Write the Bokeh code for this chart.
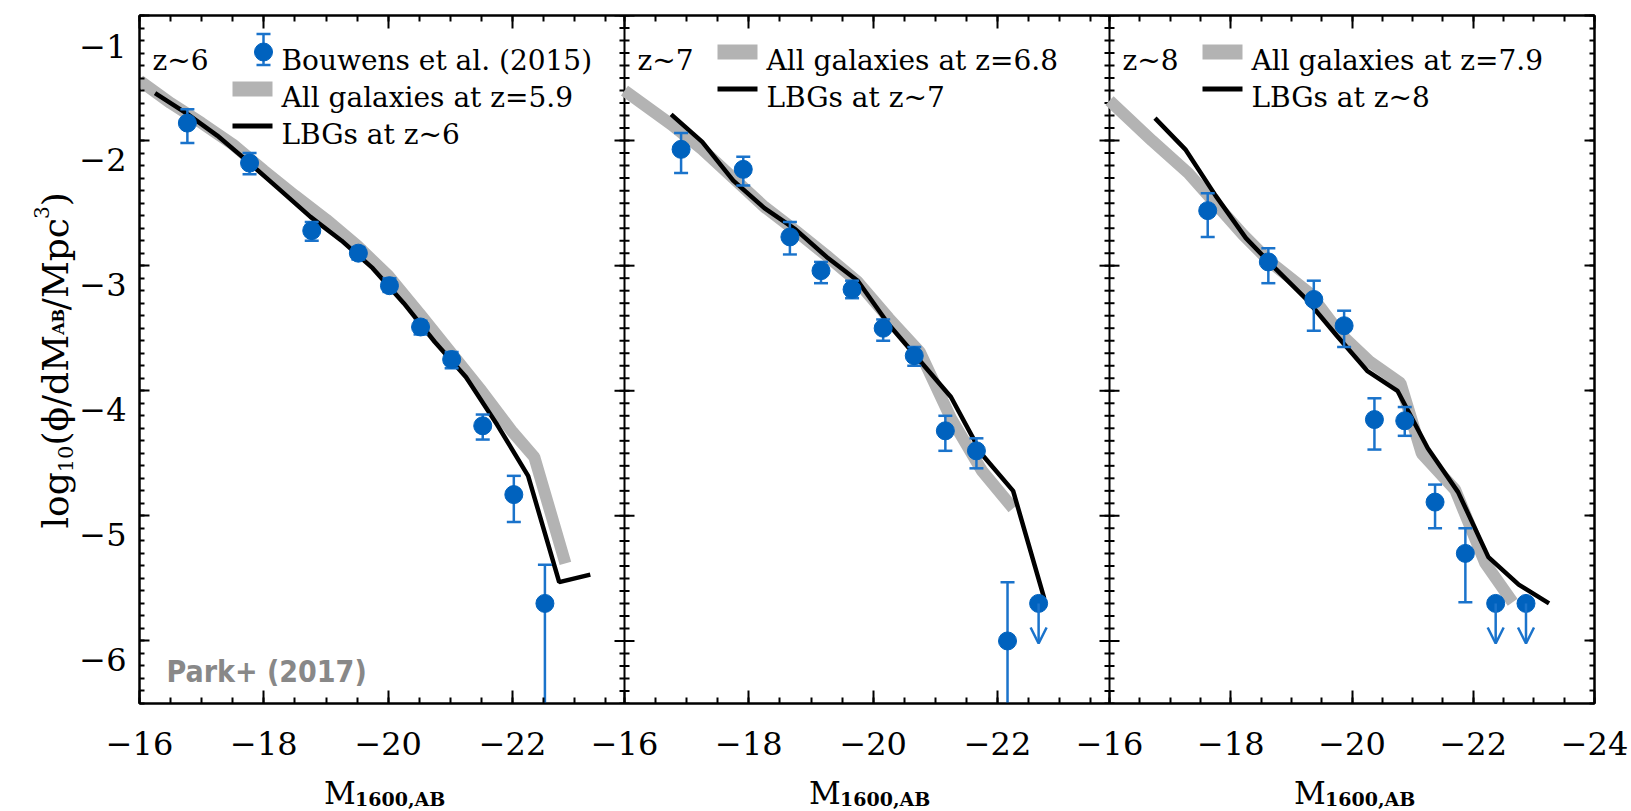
import numpy as np
from bokeh.plotting import figure
from bokeh.layouts import row, column
from bokeh.models import (Range1d, LinearAxis, FixedTicker, Label, ColumnDataSource,
                          Arrow, OpenHead)
from bokeh.embed import file_html
from bokeh.resources import INLINE

# ---------------- data ----------------
# Bouwens et al. (2015) stepwise UV luminosity functions (log10 phi)
b6_M   = [-22.52, -22.02, -21.52, -21.02, -20.52, -20.02, -19.52, -18.77, -17.77, -16.77]
b6_phi = [-5.70, -4.83, -4.28, -3.75, -3.49, -3.16, -2.90, -2.72, -2.18, -1.86]
b6_hi  = [-5.39, -4.68, -4.19, -3.69, -3.44, -3.10, -2.85, -2.65, -2.10, -1.75]
b6_lo  = [None, -5.05, -4.39, -3.82, -3.55, -3.21, -2.95, -2.80, -2.27, -2.02]
b6_lim = [False, False, False, False, False, False, False, False, False, False]

b7_M   = [-22.66, -22.16, -21.66, -21.16, -20.66, -20.16, -19.66, -19.16, -18.66, -17.91, -16.91]
b7_phi = [-5.70, -6.00, -4.48, -4.32, -3.72, -3.50, -3.19, -3.04, -2.77, -2.23, -2.07]
b7_hi  = [None, -5.53, -4.38, -4.20, -3.65, -3.43, -3.12, -2.97, -2.65, -2.13, -1.94]
b7_lo  = [None, None, -4.62, -4.48, -3.80, -3.60, -3.26, -3.14, -2.91, -2.36, -2.26]
b7_lim = [True, False, False, False, False, False, False, False, False, False, False]

b8_M   = [-22.87, -22.37, -21.87, -21.37, -20.87, -20.37, -19.87, -19.37, -18.62, -17.62]
b8_phi = [-5.70, -5.70, -5.30, -4.89, -4.24, -4.23, -3.48, -3.27, -2.97, -2.56]
b8_hi  = [None, None, -5.10, -4.75, -4.13, -4.06, -3.36, -3.12, -2.86, -2.42]
b8_lo  = [None, None, -5.69, -5.10, -4.36, -4.47, -3.65, -3.52, -3.14, -2.77]
b8_lim = [True, True, False, False, False, False, False, False, False, False]

# Model: all galaxies (grey band)
all6_M = [-16.0, -16.5, -17.0, -17.5, -18.0, -18.5, -19.0, -19.5, -20.0, -20.5, -21.0, -21.5, -22.0, -22.35, -22.85]
all6   = [-1.52, -1.70, -1.86, -2.03, -2.24, -2.44, -2.63, -2.84, -3.08, -3.38, -3.69, -4.00, -4.33, -4.53, -5.38]
all7_M = [-16.0, -16.75, -17.25, -17.75, -18.25, -18.75, -19.25, -19.75, -20.25, -20.75, -21.25, -21.75, -22.25]
all7   = [-1.60, -1.87, -2.07, -2.30, -2.53, -2.72, -2.92, -3.13, -3.42, -3.69, -4.22, -4.64, -4.94]
all8_M = [-16.0, -16.7, -17.3, -18.2, -18.65, -19.3, -19.8, -20.3, -20.8, -21.15, -21.7, -22.2, -22.65]
all8   = [-1.68, -2.00, -2.26, -2.75, -2.97, -3.22, -3.54, -3.77, -3.94, -4.50, -4.79, -5.38, -5.69]

# Model: LBGs (black line)
lbg6_M = [-16.25, -16.75, -17.25, -17.75, -18.25, -18.75, -19.25, -19.75, -20.25, -20.75, -21.25, -21.75, -22.25, -22.75, -23.25]
lbg6   = [-1.62, -1.78, -1.96, -2.17, -2.39, -2.61, -2.80, -3.02, -3.30, -3.61, -3.89, -4.27, -4.68, -5.53, -5.47]
lbg7_M = [-16.75, -17.25, -17.75, -18.25, -18.75, -19.25, -19.75, -20.25, -20.75, -21.25, -21.75, -22.25, -22.75]
lbg7   = [-1.79, -2.01, -2.32, -2.54, -2.71, -2.93, -3.12, -3.47, -3.76, -4.05, -4.51, -4.80, -5.66]
lbg8_M = [-16.75, -17.25, -17.75, -18.25, -18.75, -19.25, -19.75, -20.25, -20.75, -21.25, -21.75, -22.25, -22.75, -23.25]
lbg8   = [-1.82, -2.07, -2.44, -2.78, -3.03, -3.27, -3.56, -3.84, -4.00, -4.46, -4.81, -5.33, -5.55, -5.70]

# texts
panel_tags = ["z~6", "z~7", "z~8"]
obs_label  = "Bouwens et al. (2015)"
all_labels = ["All galaxies at z=5.9", "All galaxies at z=6.8", "All galaxies at z=7.9"]
lbg_labels = ["LBGs at z~6", "LBGs at z~7", "LBGs at z~8"]
credit     = "Park+ (2017)"

# axes
panel_xlim = [(-16.0, -23.8), (-16.0, -23.8), (-16.0, -24.0)]
x_major = [-16, -18, -20, -22, -24]
x_minor_step = 0.5
y_lim = (-6.5, -1.0)
y_major = [-1, -2, -3, -4, -5, -6]
y_labels = ["\u22121", "\u22122", "\u22123", "\u22124", "\u22125", "\u22126"]
y_minor_step = 0.1

# ---------------- layout / style constants (page pixels) ----------------
PAGE_W, PAGE_H = 1631, 811
LEFT_W = 136                      # strip holding the y tick labels and y title
FRAME_L, FRAME_R, FRAME_T, FRAME_B = 139, 1594, 15, 703
MAIN_H = FRAME_B + 3              # main plot; full-width strip with x labels below it
NP = 3
PW = (FRAME_R - FRAME_L) / NP
BLUE = "#0062BE"
ERR = "#1A73CB"
GRAY = "#B3B3B3"
SERIF = "DejaVu Serif"
LIMIT_LEN = 0.32
COMMON = dict(tools="", toolbar_location=None, output_backend="svg", title=None)

# ---------------- main plot ----------------
p = figure(width=PAGE_W - LEFT_W, height=MAIN_H,
           x_range=Range1d(0, NP), y_range=Range1d(*y_lim),
           x_axis_type=None, y_axis_type=None,
           min_border_left=FRAME_L - LEFT_W, min_border_right=PAGE_W - FRAME_R,
           min_border_top=FRAME_T, min_border_bottom=MAIN_H - FRAME_B, **COMMON)
p.outline_line_color = "black"
p.outline_line_width = 2
p.background_fill_color = "white"
p.border_fill_color = "white"

for k, (a, b) in enumerate(panel_xlim):
    span = b - a
    p.extra_x_ranges["m%d" % k] = Range1d(a - k * span, a + (NP - k) * span)
p.extra_x_ranges["px"] = Range1d(FRAME_L, FRAME_R)
p.extra_y_ranges["py"] = Range1d(FRAME_B, FRAME_T)


def u_of(k, M):
    a, b = panel_xlim[k]
    return float(k + (M - a) / (b - a))


xt_major, xt_minor, xt_text = [], [], []
for k, (a, b) in enumerate(panel_xlim):
    for M in x_major:
        if b <= M <= a:
            xt_major.append(u_of(k, M))
            xt_text.append("\u2212%d" % abs(M))
    for M in np.arange(a, b - 1e-9, -x_minor_step):
        xt_minor.append(u_of(k, float(M)))

y_minor = [float(v) for v in np.round(np.arange(y_major[0], y_lim[0] - 1e-9, -y_minor_step), 3)]


def style_axis(ax, tin, tmin):
    ax.axis_line_width = 2
    ax.axis_line_color = "black"
    ax.major_tick_line_width = 2
    ax.minor_tick_line_width = 2
    ax.major_tick_line_color = "black"
    ax.minor_tick_line_color = "black"
    ax.major_tick_in = tin
    ax.major_tick_out = 0
    ax.minor_tick_in = tmin
    ax.minor_tick_out = 0
    ax.major_label_text_color = None
    ax.major_label_text_font_size = "1px"
    ax.major_label_standoff = 0


for side in ("below", "above"):
    ax = LinearAxis(ticker=FixedTicker(ticks=xt_major, minor_ticks=xt_minor))
    style_axis(ax, 13, 6)
    p.add_layout(ax, side)
for side in ("left", "right"):
    ax = LinearAxis(ticker=FixedTicker(ticks=[float(v) for v in y_major], minor_ticks=y_minor))
    style_axis(ax, 10, 5)
    p.add_layout(ax, side)

# internal panel boundaries with two-sided ticks
bxs = [FRAME_L + PW * k for k in range(1, NP)]
p.segment(x0=bxs, y0=[y_lim[0]] * len(bxs), x1=bxs, y1=[y_lim[1]] * len(bxs),
          x_range_name="px", line_width=2, line_color="black")
tx0, tx1, ty = [], [], []
for bx in bxs:
    for v in y_major:
        tx0.append(bx - 10); tx1.append(bx + 10); ty.append(v)
    for v in y_minor:
        tx0.append(bx - 5); tx1.append(bx + 5); ty.append(v)
p.segment(x0=tx0, y0=ty, x1=tx1, y1=ty, x_range_name="px", line_width=2, line_color="black")

# ---------------- data glyphs ----------------
panels = [
    (b6_M, b6_phi, b6_hi, b6_lo, b6_lim, all6_M, all6, lbg6_M, lbg6),
    (b7_M, b7_phi, b7_hi, b7_lo, b7_lim, all7_M, all7, lbg7_M, lbg7),
    (b8_M, b8_phi, b8_hi, b8_lo, b8_lim, all8_M, all8, lbg8_M, lbg8),
]
for k, (M, phi, hi, lo, lim, gM, g, lM, l) in enumerate(panels):
    rng = "m%d" % k
    p.line(gM, g, x_range_name=rng, line_width=12, line_color=GRAY)
    p.line(lM, l, x_range_name=rng, line_width=4.5, line_color="black")
    ex, ey0, ey1, cx, cy = [], [], [], [], []
    for m, v, h, lw, isl in zip(M, phi, hi, lo, lim):
        if isl:
            continue
        bot = lw if lw is not None else y_lim[0] - 1.0
        ex.append(m); ey0.append(bot); ey1.append(h)
        cx.append(m); cy.append(h)
        if lw is not None:
            cx.append(m); cy.append(lw)
    p.segment(x0=ex, y0=ey0, x1=ex, y1=ey1, x_range_name=rng, line_width=2.5, line_color=ERR)
    p.scatter(cx, cy, marker="dash", size=14, line_width=2.5, line_color=ERR, x_range_name=rng)
    p.scatter(M, phi, size=18, fill_color=BLUE, line_color=BLUE, x_range_name=rng)
    lx = [m for m, isl in zip(M, lim) if isl]
    ly = [v for v, isl in zip(phi, lim) if isl]
    if lx:
        src = ColumnDataSource(dict(x=lx, y0=ly, y1=[v - LIMIT_LEN for v in ly]))
        p.add_layout(Arrow(end=OpenHead(size=16, line_color=ERR, line_width=2.5),
                           x_start="x", y_start="y0", x_end="x", y_end="y1", source=src,
                           line_color=ERR, line_width=2.5, x_range_name=rng))

# ---------------- legends ----------------
LEG_BASE0, LEG_PITCH = 60, 37
LEG_FONT = "28px"
gx0, gx1, gy, kx0, kx1, ky = [], [], [], [], [], []
for k in range(NP):
    left = FRAME_L + PW * k
    p.add_layout(Label(x=left + 13, y=LEG_BASE0, text=panel_tags[k], x_range_name="px",
                       y_range_name="py", text_font=SERIF, text_font_size=LEG_FONT,
                       text_baseline="alphabetic", text_color="black"))
    rows = []
    if k == 0:
        rows.append(("obs", obs_label))
    rows.append(("all", all_labels[k]))
    rows.append(("lbg", lbg_labels[k]))
    for r, (kind, txt) in enumerate(rows):
        base = LEG_BASE0 + r * LEG_PITCH
        yc = base - 8.5
        if kind == "obs":
            mx = left + 124
            p.segment(x0=[mx], y0=[yc - 18], x1=[mx], y1=[yc + 13], x_range_name="px",
                      y_range_name="py", line_width=2.5, line_color=ERR)
            p.scatter([mx, mx], [yc - 18, yc + 13], marker="dash", size=14, line_width=2.5,
                      line_color=ERR, x_range_name="px", y_range_name="py")
            p.scatter([mx], [yc], size=18, fill_color=BLUE, line_color=BLUE,
                      x_range_name="px", y_range_name="py")
        elif kind == "all":
            gx0.append(left + 93); gx1.append(left + 133); gy.append(yc)
        else:
            kx0.append(left + 93); kx1.append(left + 133); ky.append(yc)
        p.add_layout(Label(x=left + 142, y=base, text=txt, x_range_name="px", y_range_name="py",
                           text_font=SERIF, text_font_size=LEG_FONT, text_baseline="alphabetic",
                           text_color="black"))
p.segment(x0=gx0, y0=gy, x1=gx1, y1=gy, x_range_name="px", y_range_name="py",
          line_width=15, line_color=GRAY)
p.segment(x0=kx0, y0=ky, x1=kx1, y1=ky, x_range_name="px", y_range_name="py",
          line_width=5, line_color="black")

# credit
p.add_layout(Label(x=166, y=671, text=credit, x_range_name="px", y_range_name="py",
                   text_font="DejaVu Sans Condensed", text_font_style="bold",
                   text_font_size="30px", text_color="#888888", text_baseline="alphabetic"))

# ---------------- left strip: y tick labels and y title ----------------
# Same top/bottom borders as the main plot, so that the row alignment keeps its
# frame exactly level with the main frame; its ranges are page pixels.
pl = figure(width=LEFT_W, height=MAIN_H, x_range=Range1d(0, LEFT_W),
            y_range=Range1d(FRAME_B, FRAME_T), x_axis_type=None, y_axis_type=None,
            min_border_left=0, min_border_right=0, min_border_top=FRAME_T,
            min_border_bottom=MAIN_H - FRAME_B, **COMMON)
pl.outline_line_color = None
pl.background_fill_color = "white"
pl.border_fill_color = "white"
for v, txt in zip(y_major, y_labels):
    ycen = FRAME_T + (y_lim[1] - v) / (y_lim[1] - y_lim[0]) * (FRAME_B - FRAME_T) + 7
    base = max(ycen + 11.5, FRAME_T + 31)
    pl.add_layout(Label(x=FRAME_L - 13, y=base, text=txt, text_font=SERIF,
                        text_font_size="32px", text_align="right", text_baseline="alphabetic",
                        text_color="black"))

yt_pieces = [("log", 36, "normal", 55, 56.2), ("10", 21, "normal", 65, 26.7),
             ("(\u03d5/dM", 36, "normal", 55, 110.8), ("AB", 16, "bold", 58, 24.6),
             ("/Mpc", 36, "normal", 55, 91.2), ("3", 20, "normal", 41, 12.7),
             (")", 36, "normal", 55, 14.0)]
ycur = 528
for txt, fs, sty, bx, w in yt_pieces:
    pl.add_layout(Label(x=bx, y=ycur, text=txt, angle=np.pi / 2, text_font=SERIF,
                        text_font_size="%dpx" % fs, text_font_style=sty,
                        text_baseline="alphabetic", text_align="left", text_color="black"))
    ycur -= w

# ---------------- bottom strip (full width): x tick labels and x titles ----------------
pb = figure(width=PAGE_W, height=PAGE_H - MAIN_H,
            x_range=Range1d(0, PAGE_W), y_range=Range1d(PAGE_H, MAIN_H),
            x_axis_type=None, y_axis_type=None, min_border=0, **COMMON)
pb.outline_line_color = None
pb.background_fill_color = "white"
pb.border_fill_color = "white"
for u, txt in zip(xt_major, xt_text):
    pb.add_layout(Label(x=FRAME_L + u * PW, y=743, text=txt, text_font=SERIF,
                        text_font_size="32px", text_align="center", text_baseline="middle",
                        text_color="black"))
for k in range(NP):
    c = FRAME_L + PW * (k + 0.5)
    x0 = c - 58
    pb.add_layout(Label(x=x0, y=792, text="M", text_font=SERIF, text_font_size="31px",
                        text_baseline="alphabetic", text_color="black"))
    pb.add_layout(Label(x=x0 + 31, y=798, text="1600,AB", text_font=SERIF,
                        text_font_size="19px", text_font_style="bold",
                        text_baseline="alphabetic", text_color="black"))

layout = column(row(pl, p, spacing=0), pb, spacing=0)
open("out.html", "w").write(file_html(layout, INLINE))
